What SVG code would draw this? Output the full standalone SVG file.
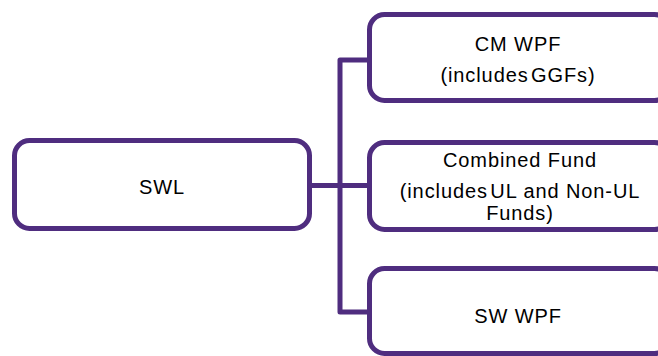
<svg xmlns="http://www.w3.org/2000/svg" width="658" height="356" viewBox="0 0 658 356">
<style>
.box{fill:#ffffff;stroke:#4f2d7f;stroke-width:5}
.conn{fill:none;stroke:#4f2d7f;stroke-width:5;stroke-linejoin:round}
text{font-family:"Liberation Sans",Arial,sans-serif;font-size:20px;letter-spacing:0.9px;fill:#000000;text-anchor:middle}
.tight{word-spacing:-4px}
</style>
<rect width="658" height="356" fill="#ffffff"/>
<g id="connectors">
<path class="conn" d="M310 185.5 H340"/>
<path class="conn" d="M370 60 H340 V312 H370"/>
<path class="conn" d="M340 185.5 H370"/>
</g>
<g id="swl">
<rect class="box" x="14.5" y="140.5" width="295" height="88" rx="15"/>
<text x="162" y="194">SWL</text>
</g>
<g id="cmwpf">
<rect class="box" x="369.5" y="14.5" width="300" height="86" rx="15"/>
<text x="518" y="51">CM WPF</text>
<text x="518" y="82"><tspan class="tight">(includes </tspan>GGFs)</text>
</g>
<g id="combined">
<rect class="box" x="369.5" y="142.5" width="300" height="87" rx="15"/>
<text x="520" y="167">Combined Fund</text>
<text x="520" y="198"><tspan class="tight">(includes </tspan>UL and Non-UL</text>
<text x="520" y="220">Funds)</text>
</g>
<g id="swwpf">
<rect class="box" x="369.5" y="268.5" width="300" height="85" rx="15"/>
<text x="518" y="323">SW WPF</text>
</g>
</svg>
